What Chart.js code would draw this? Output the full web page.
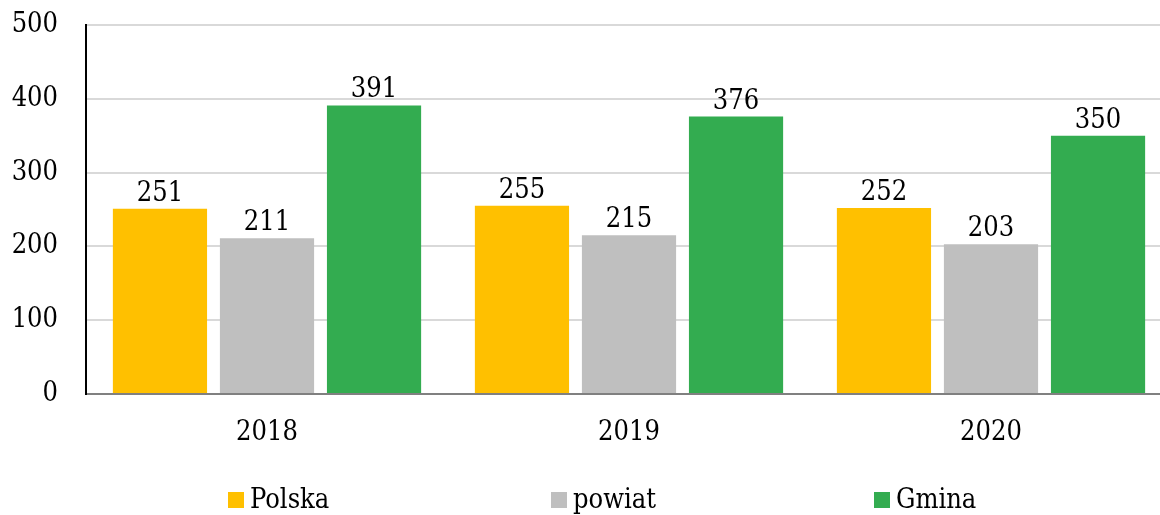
<!DOCTYPE html>
<html>
<head>
<meta charset="utf-8">
<script src="https://cdn.jsdelivr.net/npm/chart.js@4/dist/chart.umd.min.js"></script>
<style>
  html, body { margin: 0; padding: 0; background: #fff; overflow: hidden; }
  #wrap { position: relative; width: 1172px; height: 515px; }
  #legend { position: absolute; left: 228px; top: 484px; font: 27px "DejaVu Serif Condensed", "Liberation Serif"; line-height: 30px; white-space: nowrap; color: #000; }
  #legend span.item { display: inline-block; width: 323px; }
  #legend i { display: inline-block; width: 16px; height: 16px; margin-right: 6px; vertical-align: baseline; }
</style>
</head>
<body>
<div id="wrap">
  <canvas id="canvas" width="1172" height="515"></canvas>
  <div id="legend"></div>
</div>
<script>
const years = ["2018", "2019", "2020"];
const polska = [251, 255, 252];
const powiat = [211, 215, 203];
const gmina = [391, 376, 350];
const yTicks = [0, 100, 200, 300, 400, 500];

const fontFamily = "'DejaVu Serif Condensed', 'Liberation Serif'";
const font = { family: fontFamily, size: 27 };

// value labels above each bar
const barValues = {
  id: "barValues",
  afterDatasetsDraw(chart) {
    const ctx = chart.ctx;
    ctx.save();
    ctx.font = "27px " + fontFamily;
    ctx.fillStyle = "#000";
    ctx.textAlign = "center";
    ctx.textBaseline = "alphabetic";
    chart.data.datasets.forEach((ds, i) => {
      chart.getDatasetMeta(i).data.forEach((bar, j) => {
        ctx.fillText(ds.data[j], bar.x, bar.y - 8);
      });
    });
    ctx.restore();
  }
};

const chart = new Chart(document.getElementById("canvas"), {
  type: "bar",
  data: {
    labels: years,
    datasets: [
      { label: "Polska", data: polska, backgroundColor: "#FFC000" },
      { label: "powiat", data: powiat, backgroundColor: "#BFBFBF" },
      { label: "Gmina", data: gmina, backgroundColor: "#33AC50" }
    ]
  },
  options: {
    responsive: false,
    animation: false,
    categoryPercentage: 0.887,
    barPercentage: 0.88,
    layout: { padding: { top: 25, right: 0, left: 0, bottom: 0 } },
    plugins: { legend: { display: false }, tooltip: { enabled: false } },
    scales: {
      x: {
        grid: { color: "rgba(0,0,0,0)", drawTicks: false },
        border: { color: "#808080", width: 2 },
        ticks: { font: font, color: "#000", padding: 23 },
        afterFit(scale) { scale.height = 121; }
      },
      y: {
        min: 0,
        max: 500,
        afterBuildTicks(scale) { scale.ticks = yTicks.map(v => ({ value: v })); },
        grid: { color: "#D9D9D9", lineWidth: 2, drawTicks: false },
        border: { color: "#000", width: 2 },
        ticks: { font: font, color: "#000", padding: 28 },
        afterFit(scale) {
          scale.width = 86;
          scale.paddingTop = 0;
          scale.paddingBottom = 0;
        }
      }
    }
  },
  plugins: [barValues]
});

// legend built from the datasets
const legend = document.getElementById("legend");
chart.data.datasets.forEach(ds => {
  const item = document.createElement("span");
  item.className = "item";
  const box = document.createElement("i");
  box.style.background = ds.backgroundColor;
  item.appendChild(box);
  item.appendChild(document.createTextNode(ds.label));
  legend.appendChild(item);
});
</script>
</body>
</html>
